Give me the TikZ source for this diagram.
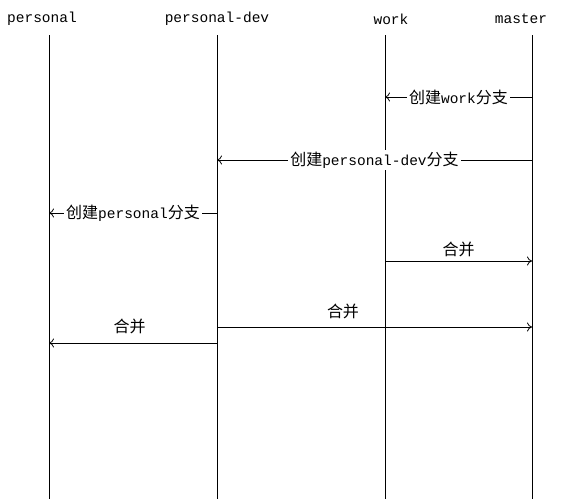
\documentclass[tikz,border=0pt]{standalone}
\usepackage{fontspec}
\setmainfont{Liberation Mono}
\newfontfamily\cjk{Noto Sans CJK SC}
\usetikzlibrary{positioning, arrows.meta}
\newcommand{\zh}[1]{{\cjk\fontsize{16}{17}\selectfont #1}}

\begin{document}
\begin{tikzpicture}[x=1pt, y=-1pt,
    head/.style={inner sep=0pt, font=\fontsize{14.5}{17}\selectfont},
    lifeline/.style={black, line width=0.8pt},
    msg/.style={-{To[length=5pt, width=9pt]}, black, line width=0.8pt},
    lbl/.style={fill=white, inner sep=2pt, font=\fontsize{14.5}{17}\selectfont},
    lbltop/.style={inner sep=0pt, font=\fontsize{14.5}{17}\selectfont}]
    \useasboundingbox (0,0) rectangle (566,499);
    % Kopfzeile
    \node[head] (personal) at (42,19) {personal};
    \node[head] (personaldev) at (217,19) {personal-dev};
    \node[head] (work) at (391,19) {work};
    \node[head] (master) at (521,19) {master};
    % Lebenslinien
    \coordinate (p0) at (49,35);   \coordinate (p1) at (49,499);
    \coordinate (d0) at (217,35);  \coordinate (d1) at (217,499);
    \coordinate (w0) at (385,35);  \coordinate (w1) at (385,499);
    \coordinate (m0) at (532,35);  \coordinate (m1) at (532,499);
    \draw[lifeline] (p0) -- (p1);
    \draw[lifeline] (d0) -- (d1);
    \draw[lifeline] (w0) -- (w1);
    \draw[lifeline] (m0) -- (m1);
    % Nachrichten
    \coordinate (mA) at (532,97);  \coordinate (wA) at (385,97);
    \draw[msg] (mA) -- node[lbl] {\zh{创建}work\zh{分支}} (wA);
    \coordinate (mB) at (532,160); \coordinate (dB) at (217,160);
    \draw[msg] (mB) -- node[lbl] {\zh{创建}personal-dev\zh{分支}} (dB);
    \coordinate (dC) at (217,213); \coordinate (pC) at (49,213);
    \draw[msg] (dC) -- node[lbl] {\zh{创建}personal\zh{分支}} (pC);
    \coordinate (wD) at (385,261); \coordinate (mD) at (532,261);
    \draw[msg] (wD) -- node[lbltop, above=4pt] {\zh{合并}} (mD);
    \coordinate (dE) at (217,327); \coordinate (mE) at (532,327);
    \draw[msg] (dE) -- node[lbltop, above=8pt, pos=0.4] {\zh{合并}} (mE);
    \coordinate (dF) at (217,343); \coordinate (pF) at (49,343);
    \draw[msg] (dF) -- node[lbltop, above=9pt, pos=0.52] {\zh{合并}} (pF);
\end{tikzpicture}
\end{document}
